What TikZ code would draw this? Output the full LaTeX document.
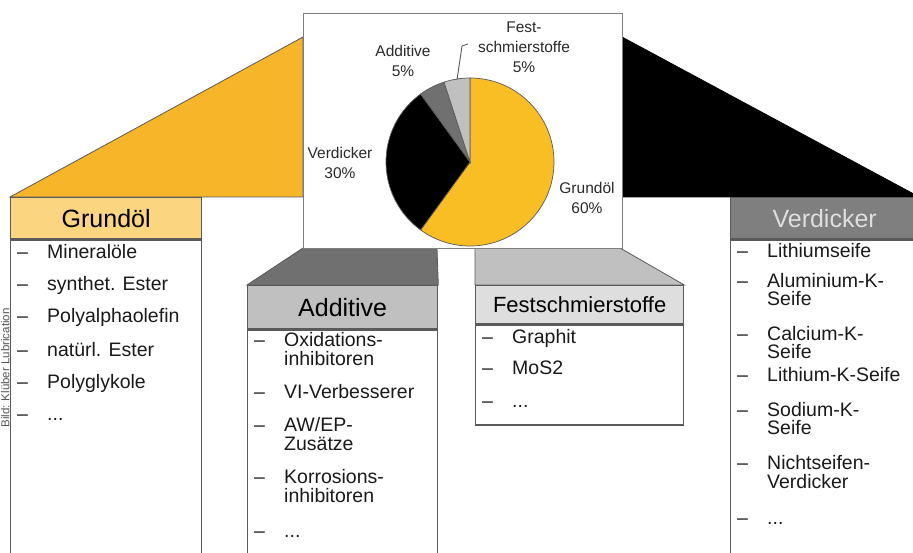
\documentclass[tikz,border=0pt]{standalone}
\usepackage{fontspec}
\setmainfont{Liberation Sans}
\definecolor{bordergray}{HTML}{5A5A5A}
\definecolor{orangefill}{HTML}{F7B52A}
\definecolor{pieorange}{HTML}{F9BE24}
\definecolor{grundhead}{HTML}{FBD57F}
\definecolor{darkgray}{HTML}{707070}
\definecolor{lightgray}{HTML}{C0C0C0}
\definecolor{paleg}{HTML}{DEDEDE}
\definecolor{verdhead}{HTML}{7F7F7F}
\definecolor{itemcol}{HTML}{1A1A1A}
\definecolor{lblcol}{HTML}{2A2A2A}
\definecolor{credit}{HTML}{555555}
\begin{document}
\begin{tikzpicture}[x=1pt,y=-1pt,
  box/.style={draw=bordergray, line width=1.3pt},
  headbox/.style={box, anchor=north west, inner sep=0pt},
  bodybox/.style={box, anchor=north west, inner sep=0pt, fill=white},
  hdfont/.style={font=\fontsize{25}{25}\selectfont},
  itemtext/.style={font=\fontsize{19.5}{19.5}\selectfont, anchor=base west, inner sep=0pt, text=itemcol},
  pielbl/.style={font=\fontsize{15.5}{20}\selectfont, align=center, text=lblcol, inner sep=0pt},
  slice/.style={draw=bordergray, line width=0.7pt},
]
\clip (0,0) rectangle (913,553);
\fill[white] (0,0) rectangle (913,553);

% named corner points of the connecting wedges
\coordinate (otop) at (303,37);
\coordinate (obot) at (303,197);
\coordinate (btop) at (622,37);
\coordinate (bbot) at (622,197);
\coordinate (atl) at (303,248);
\coordinate (atr) at (437,248);
\coordinate (ftl) at (475,248);
\coordinate (ftr) at (620,248);

% header boxes (anchors for the wedges)
\node[headbox, fill=grundhead, minimum width=191pt, minimum height=41pt, hdfont] (gh) at (10,197) {Grundöl};
\node[headbox, fill=lightgray, minimum width=190pt, minimum height=43pt, hdfont] (ah) at (247,285) {Additive};
\node[headbox, fill=paleg, minimum width=208pt, minimum height=38pt, font=\fontsize{22}{22}\selectfont] (fh) at (475,285) {Festschmierstoffe};
\node[headbox, fill=verdhead, minimum width=188pt, minimum height=41pt, hdfont, text=paleg] (vh) at (730,197) {Verdicker};

% wedges
\filldraw[fill=orangefill, draw=bordergray, line width=0.8pt] (gh.north west) -- (otop) -- (obot) -- cycle;
\filldraw[fill=black, draw=black, line width=0.8pt] (btop) -- (vh.north east) -- (bbot) -- cycle;
\filldraw[fill=darkgray, draw=bordergray, line width=0.8pt] (atl) -- (atr) -- (ah.north east) -- (ah.north west) -- cycle;
\filldraw[fill=lightgray, draw=bordergray, line width=0.8pt] (ftl) -- (ftr) -- (fh.north east) -- (fh.north west) -- cycle;

% redraw headers over wedges
\node[headbox, fill=grundhead, minimum width=191pt, minimum height=41pt, hdfont] (gh2) at (10,197) {Grundöl};
\node[headbox, fill=lightgray, minimum width=190pt, minimum height=43pt, hdfont] (ah2) at (247,285) {Additive};
\node[headbox, fill=paleg, minimum width=208pt, minimum height=38pt, font=\fontsize{22}{22}\selectfont] (fh2) at (475,285) {Festschmierstoffe};
\node[headbox, fill=verdhead, minimum width=188pt, minimum height=41pt, hdfont, text=paleg] (vh2) at (730,197) {Verdicker};

% bodies
\node[bodybox, minimum width=191pt, minimum height=330pt] (gb) at (gh.south west) {};
\node[bodybox, minimum width=190pt, minimum height=240pt] (ab) at (ah.south west) {};
\node[bodybox, minimum width=208pt, minimum height=100pt] (fb) at (fh.south west) {};
\node[bodybox, minimum width=188pt, minimum height=330pt] (vb) at (vh.south west) {};

% central chart box
\node[draw=verdhead, line width=1.3pt, fill=white, anchor=north west, inner sep=0pt, minimum width=319pt, minimum height=235pt] (chart) at (303,13) {};

% pie
\coordinate (pc) at (470,162);
\filldraw[slice, fill=pieorange] (pc) -- ++(-90:84) arc[start angle=-90, end angle=126, radius=84] -- cycle;
\filldraw[slice, fill=black] (pc) -- ++(126:84) arc[start angle=126, end angle=234, radius=84] -- cycle;
\filldraw[slice, fill=darkgray] (pc) -- ++(234:84) arc[start angle=234, end angle=252, radius=84] -- cycle;
\filldraw[slice, fill=lightgray] (pc) -- ++(252:84) arc[start angle=252, end angle=270, radius=84] -- cycle;

% pie labels
\node[pielbl] (lAdd) at (403,61) {Additive\\5\%};
\node[pielbl] (lFest) at (524,47) {Fest-\\schmierstoffe\\5\%};
\node[pielbl] (lVerd) at (340,163) {Verdicker\\30\%};
\node[pielbl] (lGrund) at (587,198) {Grundöl\\60\%};
\coordinate (leadA) at (457,80);
\coordinate (leadB) at (462,46);
\coordinate (leadC) at (468,44);
\draw[bordergray, line width=0.9pt] (leadA) -- (leadB) -- (leadC);

% list items
\newcommand\myitem[4]{%
  \node[itemtext] (#1d) at (#2+7,#3) {–};
  \node[itemtext] (#1) at (#2+37,#3) {#4};}
\newcommand\mycont[4]{%
  \node[itemtext] (#1) at (#2+37,#3) {#4};}

% Grundöl
\myitem{g1}{10}{259}{Mineralöle}
\myitem{g2}{10}{291}{synthet. Ester}
\myitem{g3}{10}{323}{Polyalphaolefin}
\myitem{g4}{10}{356}{natürl. Ester}
\myitem{g5}{10}{388}{Polyglykole}
\myitem{g6}{10}{420}{...}

% Additive
\myitem{a1}{247}{346}{Oxidations-}
\mycont{a1b}{247}{365}{inhibitoren}
\myitem{a2}{247}{398}{VI-Verbesserer}
\myitem{a3}{247}{431}{AW/EP-}
\mycont{a3b}{247}{450}{Zusätze}
\myitem{a4}{247}{483}{Korrosions-}
\mycont{a4b}{247}{502}{inhibitoren}
\myitem{a5}{247}{537}{...}

% Festschmierstoffe
\myitem{f1}{475}{343}{Graphit}
\myitem{f2}{475}{374}{MoS2}
\myitem{f3}{475}{407}{...}

% Verdicker
\myitem{v1}{730}{258}{Lithiumseife}
\myitem{v2}{730}{288}{Aluminium-K-}
\mycont{v2b}{730}{306}{Seife}
\myitem{v3}{730}{341}{Calcium-K-}
\mycont{v3b}{730}{359}{Seife}
\myitem{v4}{730}{381}{Lithium-K-Seife}
\myitem{v5}{730}{416}{Sodium-K-}
\mycont{v5b}{730}{434}{Seife}
\myitem{v6}{730}{469}{Nichtseifen-}
\mycont{v6b}{730}{488}{Verdicker}
\myitem{v7}{730}{524}{...}

% credit
\node[rotate=90, anchor=base, font=\fontsize{11.5}{11.5}\selectfont, text=credit, inner sep=0pt] (credittxt) at (9.3,368) {Bild: Klüber Lubrication};
\end{tikzpicture}
\end{document}
